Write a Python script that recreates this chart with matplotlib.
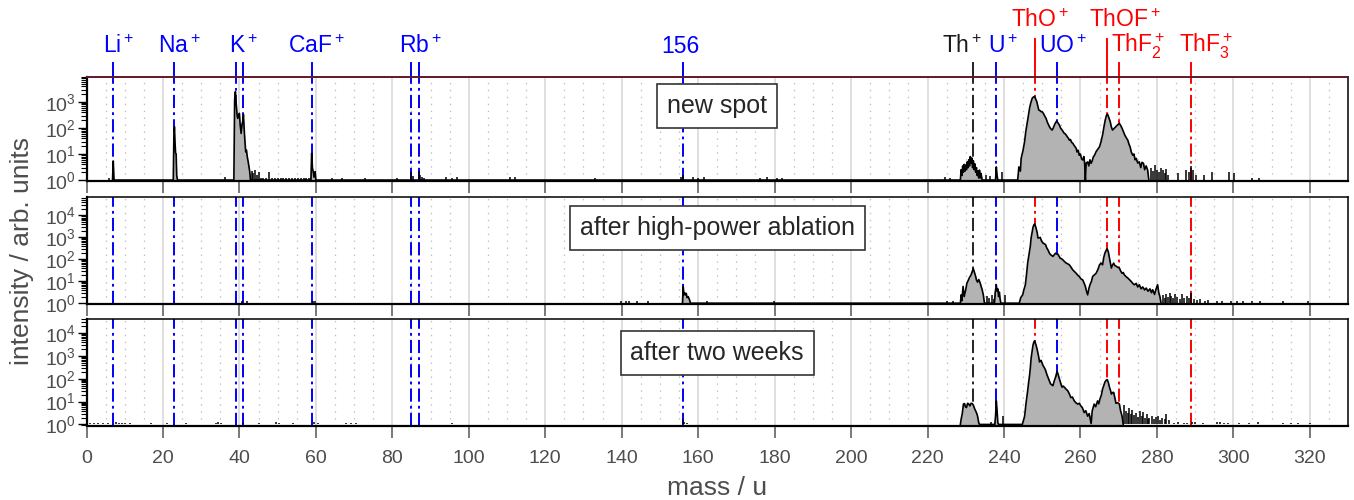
import matplotlib
matplotlib.use("Agg")
import matplotlib.pyplot as plt
import matplotlib.ticker as mticker
import matplotlib.transforms as mtransforms
import numpy as np

plt.rcParams['font.family'] = ['Liberation Sans', 'DejaVu Sans']
plt.rcParams['mathtext.fontset'] = 'custom'
plt.rcParams['mathtext.rm'] = 'Liberation Sans'
plt.rcParams['mathtext.it'] = 'Liberation Sans:italic'
plt.rcParams['mathtext.bf'] = 'Liberation Sans:bold'
plt.rcParams['lines.scale_dashes'] = False

# ---------------------------------------------------------------- ion markers
ION_MASS = [7, 23, 39, 41, 59, 85, 87, 156, 232, 238, 248, 254, 267, 270, 289]
ION_COLOR = ['#0000ff'] * 8 + ['#222222', '#0000ff', '#ff0000', '#0000ff',
                              '#ff0000', '#ff0000', '#ff0000']
# lines that reach up to the upper label row (ThO+, ThOF+)
ION_HIGH = [248, 267]

LABEL_TEXT = [r'Li$^+$', r'Na$^+$', r'K$^+$', r'CaF$^+$', r'Rb$^+$', '156',
              r'Th$^+$', r'U$^+$', r'UO$^+$', r'ThO$^+$', r'ThOF$^+$',
              r'ThF$_2^+$', r'ThF$_3^+$']
LABEL_POS = [8.3, 24.2, 41.1, 60.2, 87.3, 155.4,
             229.1, 239.7, 255.5, 249.4, 271.6, 275.1, 292.9]
LABEL_ROW = [0, 0, 0, 0, 0, 0, 0, 0, 0, 1, 1, 0, 0]
LABEL_COLOR = ['#0000ff'] * 6 + ['#1a1a1a', '#0000ff', '#0000ff',
                                 '#ff0000', '#ff0000', '#ff0000', '#ff0000']

PANEL_TITLES = ['new spot', 'after high-power ablation', 'after two weeks']

# ---------------------------------------------------------------- spectra
# (mass / u, intensity), contiguous peaks
P1_PEAKS = [
    (6.8, 1), (7.0, 5.4), (7.2, 1),
    (22.7, 1), (22.85, 40), (23.0, 112), (23.15, 30), (23.3, 11), (23.45, 10),
    (23.6, 1.5), (23.8, 1),
    (38.55, 1), (38.75, 1200), (38.95, 2500), (39.15, 900), (39.4, 316),
    (39.55, 235), (39.7, 300), (40.0, 365), (40.2, 130), (40.45, 62),
    (40.65, 130), (40.85, 175), (41.05, 330), (41.25, 90), (41.45, 30),
    (41.65, 12), (41.85, 14), (42.05, 8), (42.3, 5), (42.5, 3.2), (42.7, 2.1),
    (42.9, 1),
    (58.7, 1), (58.9, 10.6), (59.1, 3), (59.3, 2.1), (59.5, 1.3), (59.8, 2.1),
    (60.0, 1),
    (228.6, 1), (228.8, 2.5), (229.0, 1.5), (229.2, 3.5), (229.4, 2),
    (229.6, 4), (229.8, 2.2), (230.0, 3.8), (230.2, 2.5), (230.4, 5),
    (230.6, 3), (230.8, 6), (231.0, 3.5), (231.2, 8), (231.4, 4.5),
    (231.6, 7), (231.8, 3), (232.0, 5.5), (232.2, 2.5), (232.4, 4.2),
    (232.6, 2), (232.8, 3), (233.0, 1.5), (233.2, 2.2), (233.4, 1.2),
    (233.6, 2.4), (233.8, 1.2), (234.0, 1.8), (234.3, 1),
    (237.8, 1), (238.0, 3.2), (238.2, 1.5), (238.4, 1),
    (243.6, 1), (243.9, 3.2), (244.3, 2.2), (244.5, 6.8), (245.0, 14),
    (245.4, 30), (245.7, 70), (246.0, 130), (246.4, 300), (246.7, 575),
    (247.0, 900), (247.4, 1400), (247.7, 1550), (248.0, 1600), (248.3, 1300),
    (248.6, 1020), (248.9, 650), (249.1, 490), (249.4, 470), (249.7, 425),
    (250.0, 420), (250.3, 365), (250.6, 300), (251.0, 235), (251.4, 160),
    (251.9, 112), (252.2, 95), (252.6, 83), (252.9, 100), (253.2, 130),
    (253.5, 160), (253.8, 185), (254.1, 160), (254.5, 130), (254.8, 100),
    (255.1, 88), (255.4, 76), (255.7, 64), (256.0, 60), (256.3, 53),
    (256.6, 45), (256.9, 40), (257.1, 34), (257.4, 36), (257.7, 28),
    (258.0, 26), (258.3, 22), (258.6, 19), (258.9, 16.5), (259.1, 12),
    (259.4, 14), (259.7, 9), (260.0, 10), (260.3, 6.5), (260.6, 5.9),
    (260.9, 8), (261.1, 4.5), (261.3, 1.0), (261.5, 4.4), (261.9, 5),
    (262.2, 3.5), (262.5, 6), (262.8, 4.4), (263.1, 5.5), (263.4, 7.9),
    (263.7, 9), (264.1, 12.3), (264.5, 15), (265.0, 19), (265.4, 30),
    (265.8, 54), (266.2, 120), (266.5, 205), (266.8, 300), (267.1, 340),
    (267.4, 260), (267.8, 175), (268.1, 110), (268.4, 83), (268.8, 95),
    (269.3, 112), (269.8, 135), (270.2, 150), (270.6, 120), (270.9, 97),
    (271.3, 70), (271.6, 54), (272.0, 42), (272.4, 34), (272.7, 24),
    (273.0, 19), (273.3, 12), (273.7, 9), (274.0, 10), (274.3, 6),
    (274.6, 6.8), (275.0, 4.5), (275.4, 5), (275.8, 3), (276.1, 4.8),
    (276.5, 4.4), (276.8, 2.5), (277.2, 3.5), (277.6, 2.4), (277.9, 1),
]
# isolated single-channel spikes
P1_SPIKES = [
    (6.0, 1.2), (36.2, 1.3), (43.2, 2.2), (43.6, 1.8), (44.0, 2.4), (44.5, 1.6),
    (45.0, 2.0), (45.6, 1.2), (46.3, 1.15), (47.0, 1.2), (47.8, 2.1),
    (48.5, 1.15), (49.2, 1.2), (50.0, 1.15), (50.8, 1.2), (51.5, 1.15),
    (52.3, 1.2), (53.0, 1.15), (53.8, 1.2), (54.6, 1.15), (55.3, 1.2),
    (56.0, 1.15), (56.8, 1.2), (57.5, 1.15), (58.2, 1.2),
    (64.2, 1.2), (66.8, 1.2), (72.9, 1.2), (81.2, 1.2), (85.0, 2.1),
    (85.3, 1.4), (87.0, 2.2), (87.3, 1.6), (87.7, 1.3), (88.2, 1.2),
    (94.0, 1.3), (95.5, 1.2), (97.0, 1.3), (110.8, 1.3), (112.0, 1.3),
    (133.0, 1.2), (155.5, 1.3), (156.0, 1.5), (158.7, 1.3), (160.0, 1.2),
    (161.5, 1.3), (176.2, 1.2), (178.0, 1.3), (180.5, 1.2), (182.0, 1.2),
    (224.5, 1.3), (226.0, 1.2), (235.2, 1.6), (236.4, 1.4), (239.5, 2.0),
    (278.5, 3), (279.0, 2.2), (279.5, 3.8), (280.0, 2.5), (280.5, 2),
    (281.0, 3), (281.5, 2.5), (282.0, 1.8), (282.5, 2.7), (283.0, 1.5),
    (285.5, 1.8), (287.7, 2.4), (288.5, 2), (289.0, 3.6), (289.5, 2.5),
    (290.2, 1.6), (292.3, 1.6), (294.5, 2.1), (299.0, 2.1), (300.3, 1.9),
    (305.0, 1.2), (306.7, 1.2),
]

P2_PEAKS = [
    (155.9, 1), (156.1, 5.7), (156.3, 2.4), (156.5, 3), (156.7, 2.4),
    (156.9, 2.8), (157.1, 1.8), (157.4, 2), (157.7, 1.5), (158.0, 1),
    (228.6, 1), (228.8, 2.4), (229.0, 1.3), (229.3, 5.8), (229.6, 2),
    (230.0, 4.1), (230.3, 8), (230.7, 11.5), (231.0, 15), (231.4, 19.5),
    (231.7, 28), (232.0, 37), (232.3, 25), (232.6, 16.5), (232.8, 11.5),
    (233.1, 9.1), (233.4, 12), (233.7, 9.1), (234.0, 6), (234.3, 4.1),
    (234.6, 2.4), (234.9, 1),
    (237.5, 1), (237.7, 3), (237.9, 5), (238.0, 6.7), (238.2, 3.5),
    (238.4, 4.5), (238.6, 2), (238.8, 3.2), (239.0, 1.5), (239.2, 1),
    (244.0, 1), (244.4, 1.8), (244.9, 2.4), (245.2, 4), (245.6, 6.9),
    (245.9, 20), (246.2, 67), (246.5, 140), (246.7, 230), (246.9, 400),
    (247.1, 930), (247.4, 1900), (247.6, 2870), (247.8, 3600), (248.0, 4050),
    (248.2, 3400), (248.4, 2650), (248.7, 1600), (248.9, 930), (249.2, 950),
    (249.5, 995), (249.8, 700), (250.2, 550), (250.5, 520), (250.9, 460),
    (251.2, 330), (251.5, 270), (251.9, 190), (252.2, 162), (252.5, 150),
    (252.8, 135), (253.2, 165), (253.5, 190), (253.8, 175), (254.1, 172),
    (254.4, 140), (254.7, 113), (255.1, 105), (255.4, 95), (255.8, 80),
    (256.3, 67), (256.7, 62), (257.1, 56), (257.5, 45), (258.0, 33),
    (258.4, 28), (258.9, 23), (259.3, 19), (259.7, 16.5), (260.1, 13),
    (260.6, 11.5), (261.0, 8), (261.3, 5.8), (261.6, 3.5), (261.9, 2.4),
    (262.2, 4.5), (262.5, 6.9), (262.9, 10), (263.2, 16.5), (263.6, 19),
    (264.1, 23), (264.6, 35), (265.0, 56), (265.4, 67), (265.8, 56),
    (266.1, 120), (266.4, 190), (266.7, 250), (267.0, 300), (267.3, 220),
    (267.6, 113), (267.9, 60), (268.1, 40), (268.4, 55), (268.7, 67),
    (269.0, 52), (269.3, 49), (269.7, 44), (270.2, 40), (270.5, 30),
    (270.9, 23), (271.2, 25), (271.5, 19.5), (271.9, 16.5), (272.4, 14),
    (272.8, 12), (273.3, 9.7), (273.7, 8), (274.1, 6.9), (274.6, 8),
    (275.0, 5.5), (275.4, 6.9), (275.9, 4.5), (276.3, 5.5), (276.8, 4),
    (277.2, 4.9), (277.7, 3.5), (278.2, 4.5), (278.6, 3), (278.9, 4.1),
    (279.4, 2.5), (279.8, 4.5), (280.2, 6.9), (280.5, 3), (280.8, 2),
    (281.1, 1),
]
P2_SPIKES = [
    (40.8, 1.2), (42.0, 1.3), (59.2, 1.3), (59.8, 1.2), (139.8, 1.3),
    (141.0, 1.2), (142.0, 1.3), (144.0, 1.2), (147.0, 1.2), (162.3, 1.2),
    (179.8, 1.2), (225.0, 1.3), (226.8, 1.3), (235.5, 2.2), (236.2, 1.8),
    (236.8, 2.4), (237.3, 1.6), (240.2, 2.4),
    (281.5, 2.4), (282.0, 1.8), (282.4, 2.6), (282.9, 1.9), (283.4, 3),
    (283.8, 2.2), (284.3, 1.7), (284.8, 2.5), (285.3, 2), (286.0, 1.6),
    (286.6, 2.6), (287.2, 1.8), (287.8, 2.2), (288.4, 1.7), (289.0, 3.0),
    (289.6, 1.6), (290.4, 1.4), (291.2, 1.5), (292.6, 1.3), (293.5, 1.4),
    (295.7, 1.3), (297.0, 1.2), (299.5, 1.3), (301.0, 1.2), (302.5, 1.2),
    (305.0, 1.2), (307.0, 1.2), (313.0, 1.2), (319.5, 1.2),
]

P3_PEAKS = [
    (228.6, 1), (228.8, 1.7), (229.1, 3), (229.4, 7.8), (229.7, 8.2),
    (229.9, 6), (230.2, 5.5), (230.5, 8.5), (230.8, 7.8), (231.1, 6.5),
    (231.4, 8.5), (231.7, 8.2), (232.0, 7), (232.3, 5), (232.6, 3.9),
    (232.9, 3), (233.1, 2.3), (233.4, 1.2), (233.6, 1),
    (237.6, 1), (237.8, 2.3), (238.0, 10.8), (238.2, 4), (238.4, 1.2),
    (238.6, 1),
    (244.8, 1), (245.2, 1.7), (245.4, 2.3), (245.8, 9.1), (246.2, 30),
    (246.5, 80), (246.7, 142), (246.9, 300), (247.1, 780), (247.4, 1800),
    (247.6, 3000), (247.8, 4000), (248.0, 4550), (248.2, 3800), (248.4, 3000),
    (248.7, 1900), (248.9, 1300), (249.1, 900), (249.3, 550), (249.5, 600),
    (249.7, 650), (250.0, 480), (250.2, 390), (250.6, 300), (250.9, 235),
    (251.2, 160), (251.5, 118), (251.9, 80), (252.2, 60), (252.5, 55),
    (252.8, 50), (253.2, 85), (253.5, 118), (253.9, 215), (254.2, 150),
    (254.5, 100), (254.9, 60), (255.2, 43), (255.5, 48), (255.8, 43),
    (256.2, 36), (256.7, 30), (257.1, 22), (257.5, 15), (257.9, 16),
    (258.4, 10.8), (258.8, 9), (259.3, 7.8), (259.7, 8.5), (260.1, 6.5),
    (260.5, 5.5), (261.0, 3.3), (261.4, 4), (261.9, 2.3), (262.3, 3),
    (262.8, 1.1), (263.1, 4), (263.6, 7.8), (264.0, 6), (264.5, 10.8),
    (264.8, 8), (265.1, 12.8), (265.5, 20), (265.8, 36), (266.1, 50),
    (266.4, 71), (266.7, 85), (267.0, 93), (267.3, 70), (267.6, 43),
    (267.9, 30), (268.1, 21.5), (268.4, 25), (268.7, 25.5), (269.0, 15),
    (269.3, 8.5), (269.7, 9), (270.2, 7.8), (270.5, 4), (270.9, 2.3),
    (271.2, 1),
]
P3_SPIKES = [
    (1.0, 1.2), (2.0, 1.2), (3.0, 1.2), (4.2, 1.2), (5.5, 1.2), (7.8, 1.3),
    (8.5, 1.2), (9.2, 1.2), (10.0, 1.2), (11.5, 1.2), (17.0, 1.2),
    (21.0, 1.2), (26.0, 1.2), (33.8, 1.2), (34.5, 1.3), (35.3, 1.2),
    (41.0, 1.2), (45.0, 1.2), (49.5, 1.3), (50.3, 1.2), (54.0, 1.2),
    (59.5, 1.3), (60.5, 1.2), (68.0, 1.2), (69.2, 1.2), (70.5, 1.2),
    (95.5, 1.2), (156.0, 1.8), (156.4, 1.3), (157.0, 1.2),
    (236.5, 1.3), (239.7, 2.3),
    (271.5, 7), (271.9, 3.9), (272.4, 3.3), (272.8, 5.5), (273.2, 2.8),
    (273.6, 4.5), (274.0, 2.5), (274.6, 3.3), (275.0, 2.2), (275.5, 4),
    (276.0, 2.3), (276.3, 3.5), (276.8, 2), (277.3, 2.8), (277.8, 1.8),
    (278.0, 2.0), (278.6, 2.4), (279.2, 1.7), (279.8, 2.2), (280.2, 2.3),
    (280.8, 1.6), (281.4, 2.0), (282.0, 1.7), (282.4, 2.8), (283.2, 1.5),
    (284.5, 1.2), (285.5, 1.3), (287.0, 1.2), (288.0, 1.2), (289.3, 1.3),
    (290.0, 1.3), (292.0, 1.2), (295.8, 1.3), (296.5, 1.3), (297.5, 1.2),
    (298.5, 1.2), (301.5, 1.2), (304.0, 1.2), (306.5, 1.3), (313.0, 1.2),
    (315.0, 1.2), (317.0, 1.2), (320.0, 1.2),
]

Y_LIMITS = [(0.92, 9100), (0.92, 69000), (0.9, 42000)]
Y_TICKS = [[1, 10, 100, 1000], [1, 10, 100, 1000, 10000], [1, 10, 100, 1000, 10000]]

TICK_GREY = '#4d4d4d'


def draw_panel(ax, peaks, spikes, ylim, yticks, title, title_y):
    ax.set_xlim(0, 330)
    ax.set_yscale('log')
    ax.set_ylim(*ylim)

    # vertical grid: solid every 20, dotted every 5
    for x in range(0, 331, 5):
        if x % 20 == 0:
            ax.axvline(x, color='#dcdcdc', lw=1.3, zorder=0)
        else:
            ax.axvline(x, color='#bdbdbd', lw=0.9, ls=(0, (1, 4)), zorder=0)

    # ion positions
    for m, c in zip(ION_MASS, ION_COLOR):
        ax.axvline(m, color=c, lw=1.4, dashes=(9.5, 3, 2, 3), zorder=1)

    mass = [p[0] for p in peaks]
    inten = [p[1] for p in peaks]
    ax.fill_between(mass, 1, inten, color='#b3b3b3', lw=0, zorder=2)
    ax.plot(mass, inten, color='k', lw=1.2, zorder=3)
    ax.vlines([s[0] for s in spikes], 1, [s[1] for s in spikes],
              color='k', lw=1.1, zorder=3)

    trans = mtransforms.blended_transform_factory(ax.transData, ax.transAxes)
    ax.text(165, title_y, title, transform=trans, ha='center', va='center',
            fontsize=18, color='#262626', zorder=6,
            bbox=dict(boxstyle='square,pad=0.4', fc='white', ec='#333333', lw=1.2))

    ax.set_xticks(range(0, 321, 20))
    ax.tick_params(axis='x', direction='out', length=8.5, width=1.1,
                   color='#555555', labelsize=14, labelcolor=TICK_GREY, pad=9)
    ax.set_yticks(yticks)
    ax.yaxis.set_minor_locator(mticker.LogLocator(base=10, subs=np.arange(2, 10), numticks=20))
    ax.yaxis.set_minor_formatter(mticker.NullFormatter())
    ax.tick_params(axis='y', which='major', direction='out', length=6.5, width=1.0,
                   labelsize=14, labelcolor=TICK_GREY, pad=1)
    ax.tick_params(axis='y', which='minor', direction='out', length=4.3, width=0.8)
    ax.set_ylim(*ylim)

    for side in ['top', 'right']:
        ax.spines[side].set_linewidth(1.1)
    for side in ['bottom', 'left']:
        ax.spines[side].set_linewidth(1.6)


def main():
    fig = plt.figure(figsize=(13.54, 5.0), dpi=100)
    left = 86.5 / 1354
    width = 1261.5 / 1354
    rects = [(left, 1 - 181 / 500, width, 104 / 500),
             (left, 1 - 304 / 500, width, 107 / 500),
             (left, 1 - 425.5 / 500, width, 106.5 / 500)]
    title_y = [0.72, 0.71, 0.68]
    data = [(P1_PEAKS, P1_SPIKES), (P2_PEAKS, P2_SPIKES), (P3_PEAKS, P3_SPIKES)]

    axes = []
    for i in range(3):
        ax = fig.add_axes(rects[i])
        draw_panel(ax, data[i][0], data[i][1], Y_LIMITS[i], Y_TICKS[i],
                   PANEL_TITLES[i], title_y[i])
        if i < 2:
            ax.tick_params(axis='x', labelbottom=False)
        axes.append(ax)

    ax1 = axes[0]
    ax1.spines['top'].set_color('#5e1a2a')
    ax1.spines['top'].set_linewidth(1.4)

    # ion labels and connecting lines above the top panel
    trans = mtransforms.blended_transform_factory(ax1.transData, ax1.transAxes)
    for m, c in zip(ION_MASS, ION_COLOR):
        top = 1.365 if m in ION_HIGH else 1.135
        ax1.plot([m, m], [1.0, top], transform=trans, clip_on=False,
                 color=c, lw=1.4, zorder=1)
    for txt, x, row, c in zip(LABEL_TEXT, LABEL_POS, LABEL_ROW, LABEL_COLOR):
        y = 1.484 if row else 1.234
        ax1.text(x, y, txt, transform=trans, ha='center', va='baseline',
                 fontsize=16.5, color=c)

    fig.text(717 / 1354, 1 - 488 / 500, 'mass / u', ha='center', va='center',
             fontsize=19, color=TICK_GREY)
    fig.text(22 / 1354, 1 - 251 / 500, 'intensity / arb. units', rotation=90,
             ha='center', va='center', fontsize=19, color=TICK_GREY)

    fig.savefig('out.png', dpi=100)


if __name__ == '__main__':
    main()
